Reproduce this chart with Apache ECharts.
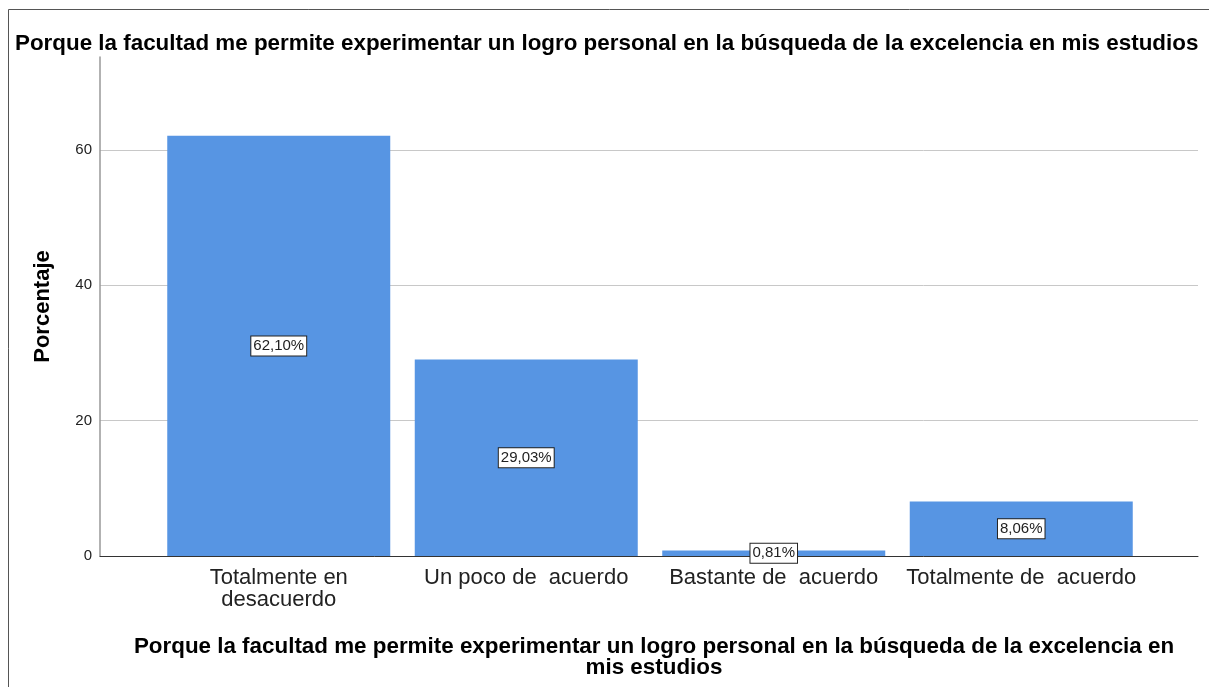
<!DOCTYPE html>
<html>
<head>
<meta charset="utf-8">
<script src="https://cdn.jsdelivr.net/npm/echarts@6/dist/echarts.min.js"></script>
<style>
  html, body { margin: 0; padding: 0; background: #fff; }
  #chart { width: 1209px; height: 687px; }
</style>
</head>
<body>
<div id="chart"></div>
<script>
// Survey responses: share of students per agreement level
const categories = ['Totalmente en\ndesacuerdo', 'Un poco de  acuerdo', 'Bastante de  acuerdo', 'Totalmente de  acuerdo'];
const percentages = [62.10, 29.03, 0.81, 8.06];
const yTicks = [0, 20, 40, 60];

const questionText = 'Porque la facultad me permite experimentar un logro personal en la búsqueda de la excelencia en mis estudios';
const axisTitle = 'Porque la facultad me permite experimentar un logro personal en la búsqueda de la excelencia en\nmis estudios';

const FONT = '"Liberation Sans", Arial, sans-serif';
const Y_MAX = 73.74;

const chart = echarts.init(document.getElementById('chart'));

chart.setOption({
  animation: false,
  backgroundColor: '#fff',
  textStyle: { fontFamily: FONT },
  title: [
    {
      text: questionText,
      left: 10,
      top: 27,
      textStyle: { fontFamily: FONT, fontSize: 22.4, fontWeight: 'bold', color: '#000', lineHeight: 24 }
    },
    {
      text: axisTitle,
      left: 649,
      top: 631,
      textAlign: 'center',
      textStyle: { fontFamily: FONT, fontSize: 22.4, fontWeight: 'bold', color: '#000', lineHeight: 21, align: 'center' }
    }
  ],
  graphic: [
    {
      type: 'rect',
      shape: { x: 8.5, y: 9.5, width: 1400, height: 900 },
      style: { fill: 'none', stroke: '#555', lineWidth: 1 },
      silent: true
    }
  ],
  grid: [
    { left: 100, right: 11, top: 57, bottom: 131 },
    { left: 155, right: 64, top: 57, bottom: 131 }
  ],
  xAxis: [
    {
      gridIndex: 0,
      type: 'category',
      data: [''],
      axisLine: { show: true, lineStyle: { color: '#333', width: 1 } },
      axisTick: { show: false },
      axisLabel: { show: false }
    },
    {
      gridIndex: 1,
      type: 'category',
      data: categories,
      axisLine: { show: false },
      axisTick: { show: false },
      axisLabel: {
        interval: 0,
        fontFamily: FONT,
        fontSize: 22,
        lineHeight: 22,
        color: '#222',
        margin: 11
      }
    }
  ],
  yAxis: [
    {
      gridIndex: 0,
      type: 'value',
      min: 0,
      max: Y_MAX,
      interval: 20,
      name: 'Porcentaje',
      nameLocation: 'middle',
      nameGap: 46,
      nameTextStyle: { fontFamily: FONT, fontSize: 22, fontWeight: 'bold', color: '#000' },
      axisLine: { show: true, lineStyle: { color: '#999', width: 1.5 } },
      axisTick: { show: false },
      axisLabel: {
        showMaxLabel: false,
        fontFamily: FONT,
        fontSize: 15,
        color: '#222',
        margin: 8,
        formatter: v => (yTicks.includes(v) ? String(v) : '')
      },
      splitLine: { show: true, showMaxLine: false, lineStyle: { color: '#c8c8c8', width: 1 } }
    },
    {
      gridIndex: 1,
      type: 'value',
      min: 0,
      max: Y_MAX,
      show: false,
      splitLine: { show: false }
    }
  ],
  series: [
    {
      type: 'bar',
      xAxisIndex: 1,
      yAxisIndex: 1,
      data: percentages,
      barWidth: 223,
      itemStyle: { color: '#5795e3' },
      label: {
        show: true,
        position: 'inside',
        formatter: p => p.value.toFixed(2).replace('.', ',') + '%',
        fontFamily: FONT,
        fontSize: 15,
        lineHeight: 16,
        color: '#222',
        backgroundColor: '#fff',
        borderColor: '#222',
        borderWidth: 1,
        padding: [2, 2, 1, 2]
      }
    }
  ]
});
</script>
</body>
</html>
